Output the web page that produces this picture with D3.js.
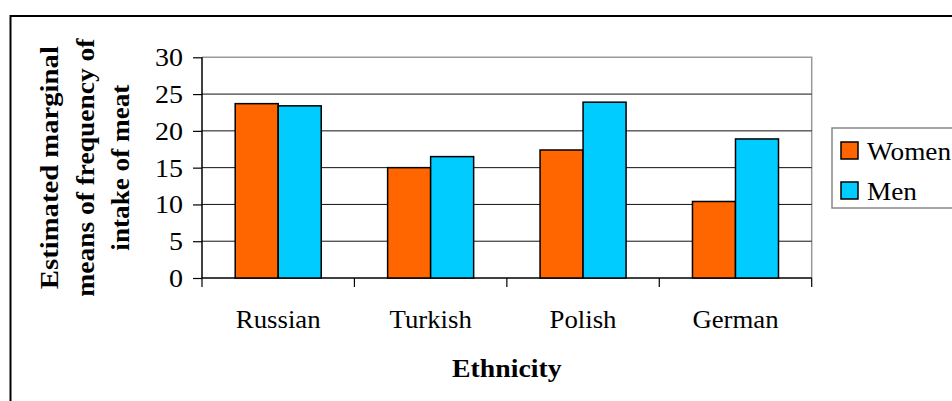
<!DOCTYPE html>
<html>
<head>
<meta charset="utf-8">
<script src="https://cdn.jsdelivr.net/npm/d3@7"></script>
<style>
  body { margin: 0; background: #fff; }
  svg text { font-family: "Liberation Serif", "Times New Roman", serif; fill: #000; }
</style>
</head>
<body>
<div id="chart"></div>
<script>
// chart data
var categories = ["Russian", "Turkish", "Polish", "German"];
var seriesNames = ["Women", "Men"];
var women = [23.7, 15.0, 17.4, 10.4];
var men = [23.4, 16.5, 23.9, 18.9];
var yTicks = [0, 5, 10, 15, 20, 25, 30];
var seriesColors = ["#FF6600", "#00CCFF"];
var titleLines = ["Estimated marginal", "means of frequency of", "intake of meat"];

var width = 952, height = 401;
var plot = { left: 202, top: 57.3, right: 811.7, bottom: 278 };

var svg = d3.select("#chart").append("svg")
    .attr("width", width)
    .attr("height", height);

// stretch text a little wider, the source image is widened
function widen(sel, k) {
  sel.each(function() {
    var len = this.getComputedTextLength();
    d3.select(this).attr("textLength", len * k).attr("lengthAdjust", "spacingAndGlyphs");
  });
}

// outer frame (runs off the right and bottom)
svg.append("rect")
    .attr("x", 10.5).attr("y", 16)
    .attr("width", 1000).attr("height", 500)
    .attr("fill", "none")
    .attr("stroke", "#000")
    .attr("stroke-width", 2);

var x0 = d3.scaleBand().domain(categories).range([plot.left, plot.right]).padding(0);
var x1 = d3.scaleBand().domain(seriesNames).range([0, x0.bandwidth()]).paddingInner(0).paddingOuter(0.772);
var y = d3.scaleLinear().domain([0, 30]).range([plot.bottom, plot.top]);

// plot border top / right in grey
svg.append("path")
    .attr("d", "M" + plot.left + "," + plot.top + "H" + plot.right + "V" + plot.bottom)
    .attr("fill", "none")
    .attr("stroke", "#999")
    .attr("stroke-width", 1.5);

// gridlines
svg.selectAll(".grid")
    .data(yTicks.filter(function(d) { return d > 0 && d < 30; }))
  .enter().append("line")
    .attr("class", "grid")
    .attr("x1", plot.left).attr("x2", plot.right)
    .attr("y1", function(d) { return y(d); })
    .attr("y2", function(d) { return y(d); })
    .attr("stroke", "#111")
    .attr("stroke-width", 1);

// y axis
var yAxis = d3.axisLeft(y).tickValues(yTicks).tickSize(9).tickPadding(10);
var gy = svg.append("g")
    .attr("transform", "translate(" + plot.left + ",0)")
    .call(yAxis);
gy.select(".domain").remove();
gy.append("line")
    .attr("x1", 0).attr("x2", 0)
    .attr("y1", plot.top).attr("y2", plot.bottom)
    .attr("stroke", "#000").attr("stroke-width", 1.5);
gy.selectAll(".tick line").attr("stroke", "#000").attr("stroke-width", 1.2);
gy.selectAll(".tick text")
    .style("font-family", "Liberation Serif, serif")
    .style("font-size", "25px")
    .attr("dy", "0.34em")
    .call(widen, 1.12);

// x axis with ticks at category boundaries
var bounds = categories.map(function(c) { return x0(c); }).concat([plot.right]);
svg.append("line")
    .attr("x1", plot.left).attr("x2", plot.right)
    .attr("y1", plot.bottom).attr("y2", plot.bottom)
    .attr("stroke", "#000").attr("stroke-width", 1.5);
svg.selectAll(".xtick")
    .data(bounds)
  .enter().append("line")
    .attr("class", "xtick")
    .attr("x1", function(d) { return d; }).attr("x2", function(d) { return d; })
    .attr("y1", plot.bottom).attr("y2", plot.bottom + 9)
    .attr("stroke", "#000").attr("stroke-width", 1.2);

svg.selectAll(".xlabel")
    .data(categories)
  .enter().append("text")
    .attr("class", "xlabel")
    .attr("x", function(d) { return x0(d) + x0.bandwidth() / 2; })
    .attr("y", 328)
    .attr("text-anchor", "middle")
    .style("font-size", "25px")
    .text(function(d) { return d; })
    .call(widen, 1.07);

// bars
var rows = categories.map(function(c, i) {
  return { category: c, values: [women[i], men[i]] };
});
var groups = svg.selectAll(".group")
    .data(rows)
  .enter().append("g")
    .attr("class", "group")
    .attr("transform", function(d) { return "translate(" + x0(d.category) + ",0)"; });
groups.selectAll("rect")
    .data(function(d) { return d.values.map(function(v, j) { return { name: seriesNames[j], value: v, j: j }; }); })
  .enter().append("rect")
    .attr("x", function(d) { return x1(d.name); })
    .attr("width", x1.bandwidth())
    .attr("y", function(d) { return y(d.value); })
    .attr("height", function(d) { return y(0) - y(d.value); })
    .attr("fill", function(d) { return seriesColors[d.j]; })
    .attr("stroke", "#000")
    .attr("stroke-width", 1.5);

// axis titles
svg.append("text")
    .attr("x", (plot.left + plot.right) / 2)
    .attr("y", 377)
    .attr("text-anchor", "middle")
    .style("font-size", "25px")
    .style("font-weight", "bold")
    .text("Ethnicity")
    .call(widen, 1.11);

var titleX = [58, 94, 129];
var titleLen = [243, 258, 166];
titleLines.forEach(function(t, i) {
  svg.append("text")
      .attr("transform", "translate(" + titleX[i] + "," + ((plot.top + plot.bottom) / 2) + ") rotate(-90)")
      .attr("text-anchor", "middle")
      .style("font-size", "26px")
      .style("font-weight", "bold")
      .attr("textLength", titleLen[i])
      .attr("lengthAdjust", "spacingAndGlyphs")
      .text(t);
});

// legend
var legend = svg.append("g").attr("transform", "translate(832,128)");
legend.append("rect")
    .attr("width", 200).attr("height", 80)
    .attr("fill", "#fff")
    .attr("stroke", "#888")
    .attr("stroke-width", 1.5);
seriesNames.forEach(function(name, i) {
  legend.append("rect")
      .attr("x", 9).attr("y", 14 + i * 40)
      .attr("width", 17).attr("height", 17)
      .attr("fill", seriesColors[i])
      .attr("stroke", "#000")
      .attr("stroke-width", 1.5);
  legend.append("text")
      .attr("x", 35).attr("y", 32 + i * 40)
      .style("font-size", "25px")
      .text(name)
      .call(widen, 1.09);
});
</script>
</body>
</html>
